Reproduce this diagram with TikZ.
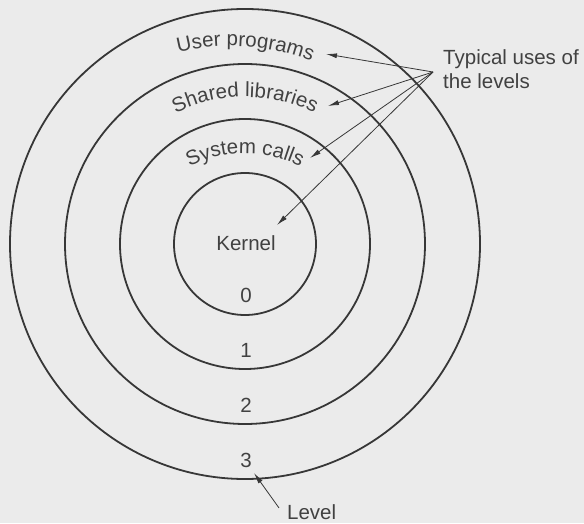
\documentclass[tikz,border=0pt]{standalone}
\usepackage{fontspec}
\setmainfont{Liberation Sans}
\usetikzlibrary{arrows.meta,decorations.text}
\definecolor{bg}{RGB}{235,235,235}
\definecolor{ink}{RGB}{55,55,55}
\definecolor{txt}{RGB}{65,65,65}
\begin{document}
\begin{tikzpicture}[x=1pt,y=1pt,
  ring/.style={circle, draw=ink, line width=1.8pt, inner sep=0pt},
  lbl/.style={font=\fontsize{20.5}{23.3}\selectfont, text=txt, inner sep=0pt},
  arr/.style={draw=ink, line width=0.8pt, -{Latex[length=11pt,width=5pt]}}]
\fill[bg] (0,0) rectangle (584,523);
\useasboundingbox (0,0) rectangle (584,523);
\coordinate (ctr) at (245,279);
% rings
\node[ring, minimum size=470pt] (ring3) at (ctr) {};
\node[ring, minimum size=360pt] (ring2) at (ctr) {};
\node[ring, minimum size=250pt] (ring1) at (ctr) {};
\node[ring, minimum size=142pt] (ring0) at (ctr) {};
% labels
\node[lbl] (kernel) at (246,279.5) {Kernel};
\node[lbl] (n0) at (246,227.5) {0};
\node[lbl] (n1) at (246,173) {1};
\node[lbl] (n2) at (246,118) {2};
\node[lbl] (n3) at (246,63) {3};
% curved texts
\path[decorate, decoration={text along path, text align=center, text color=txt,
  text={|\fontsize{20.5}{23.3}\selectfont|User programs}}]
  (231,259) ++(116.2:218) arc[start angle=116.2, end angle=56.2, radius=218];
\path[decorate, decoration={text along path, text align=center, text color=txt,
  text={|\fontsize{20.5}{23.3}\selectfont|Shared libraries}}]
  (245,271) ++(125:155) arc[start angle=125, end angle=55, radius=155];
\path[decorate, decoration={text along path, text align=center, text color=txt,
  text={|\fontsize{20.5}{23.3}\selectfont|System calls}}]
  (245,244.5) ++(140:125) arc[start angle=140, end angle=40, radius=125];
% side labels
\node[lbl, anchor=base west] (typ1) at (443,458) {Typical uses of};
\node[lbl, anchor=base west] (typ2) at (443,434.7) {the levels};
\node[lbl, anchor=base west] (level) at (287,4) {Level};
% arrows
\coordinate (src) at (433,451);
\coordinate (tUser) at (326,469);
\coordinate (tShared) at (328,417);
\coordinate (tSys) at (310,365);
\coordinate (tKern) at (277,298);
\coordinate (tLevel) at (254,50);
\draw[arr] (src) -- (tUser);
\draw[arr] (src) -- (tShared);
\draw[arr] (src) -- (tSys);
\draw[arr] (src) -- (tKern);
\draw[arr] ([shift={(-8,-4)}]level.north west) -- (tLevel);
\end{tikzpicture}
\end{document}
